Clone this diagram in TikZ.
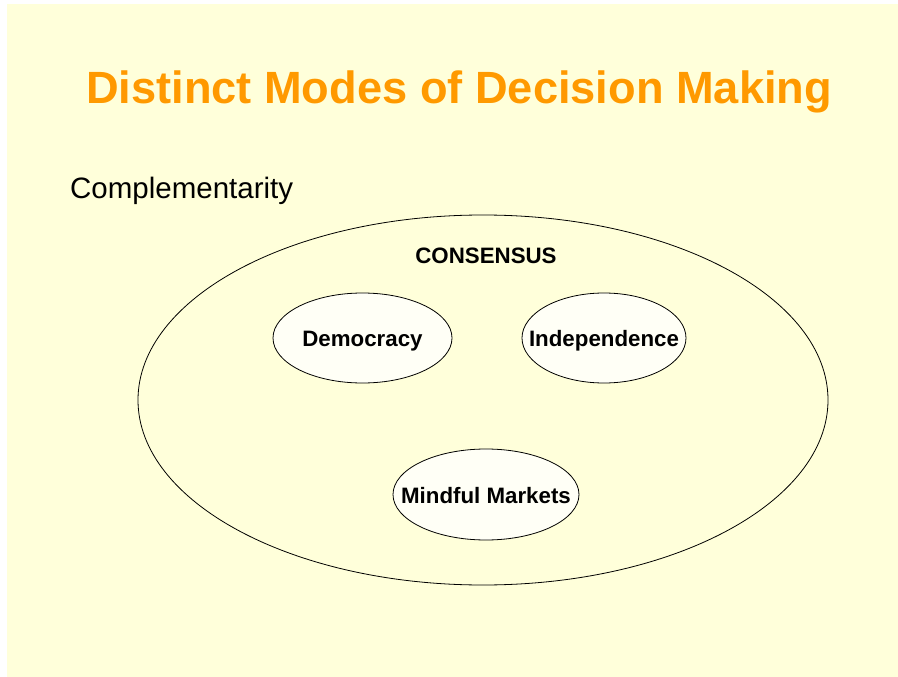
\documentclass[tikz,border=0pt]{standalone}
\usepackage{fontspec}
\setmainfont{Liberation Sans}
\usetikzlibrary{shapes.geometric}

\definecolor{slideyellow}{RGB}{255,255,218}
\definecolor{titleorange}{RGB}{255,153,0}
\definecolor{bubblefill}{RGB}{255,255,246}

\tikzset{
  mode/.style={ellipse, draw, line width=0.8pt, fill=bubblefill, inner sep=0pt,
    text height=17pt, text depth=0pt, font=\fontsize{22.3}{25}\selectfont\bfseries},
  outer/.style={ellipse, draw, line width=0.8pt, inner sep=0pt}
}

\begin{document}
\begin{tikzpicture}[x=1pt,y=-1pt]
\useasboundingbox (0,0) rectangle (898,677);
\fill[slideyellow] (7,4) rectangle (898,677);

\node[anchor=base, text=titleorange, font=\fontsize{45.2}{50}\selectfont\bfseries] (title) at (459,104) {Distinct Modes of Decision Making};
\node[anchor=base west, inner sep=0pt, font=\fontsize{29.5}{34}\selectfont] (compl) at (70,198) {Complementarity};

\node[outer, minimum width=690, minimum height=370] (consensus) at (483,400) {};
\node[font=\fontsize{22.3}{25}\selectfont\bfseries] (consensuslabel) at (486,256) {CONSENSUS};

\node[mode, minimum width=179, minimum height=90] (democracy) at (362.5,338) {\makebox[0pt]{Democracy}};
\node[mode, minimum width=164, minimum height=90] (independence) at (604,338) {\makebox[0pt]{Independence}};
\node[mode, minimum width=186, minimum height=91] (markets) at (486,494.5) {\makebox[0pt]{Mindful Markets}};

\end{tikzpicture}
\end{document}
